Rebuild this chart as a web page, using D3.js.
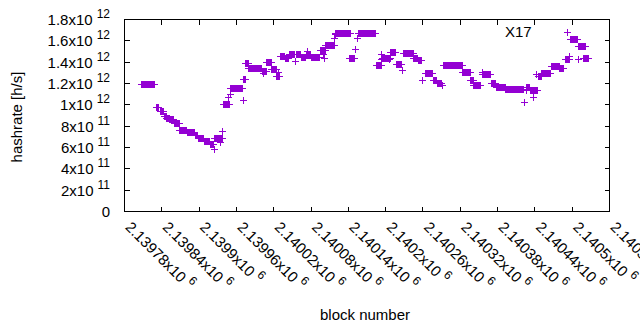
<!DOCTYPE html>
<html><head><meta charset="utf-8">
<script src="https://cdn.jsdelivr.net/npm/d3@7"></script>
<style>
body{margin:0;background:#fff}
svg{display:block}
text{font-family:"Liberation Sans",Arial,sans-serif;fill:#000}
</style>
</head><body>
<svg id="c" width="640" height="330"></svg>
<script>
// ---- data: runs of consecutive blocks sharing the same hashrate estimate ----
const runStart = [
 2139807,2139831,2139838,2139844,2139848,2139853,2139860,2139869,2139881,2139894,
 2139899,2139908,2139918,2139924,2139925,2139934,2139938,2139940,2139948,2139950,
 2139950,2139972,2139971,2139975,2139980,2140002,2140004,2140009,2140017,2140025,
 2140027,2140031,2140039,2140045,2140055,2140056,2140064,2140072,2140074,2140080,
 2140102,2140100,2140095,2140104,2140118,2140119,2140120,2140142,2140152,2140154,
 2140157,2140185,2140193,2140194,2140195,2140206,2140208,2140217,2140227,2140229,
 2140245,2140253,2140260,2140264,2140277,2140283,2140291,2140293,2140324,2140337,
 2140342,2140355,2140356,2140370,2140378,2140393,2140423,2140426,2140427,2140433,
 2140438,2140443,2140446,2140451,2140467,2140480,2140489,2140496,2140492,2140497,
 2140510,2140510,2140518];
const runEnd = [
 2139829,2139835,2139843,2139847,2139852,2139859,2139868,2139880,2139893,2139898,
 2139907,2139917,2139923,2139924,2139937,2139934,2139938,2139949,2139948,2139950,
 2139969,2139972,2139975,2139979,2140001,2140008,2140004,2140016,2140024,2140029,
 2140027,2140038,2140044,2140054,2140055,2140063,2140071,2140079,2140074,2140094,
 2140102,2140100,2140103,2140118,2140118,2140119,2140143,2140150,2140152,2140154,
 2140184,2140193,2140193,2140194,2140207,2140206,2140216,2140225,2140227,2140244,
 2140252,2140258,2140260,2140276,2140282,2140290,2140291,2140323,2140336,2140341,
 2140353,2140355,2140369,2140377,2140392,2140422,2140423,2140432,2140427,2140444,
 2140438,2140443,2140450,2140465,2140479,2140486,2140496,2140496,2140492,2140509,
 2140521,2140510,2140526];
const runRate = [
 1.188e12,0.975e12,0.940e12,0.891e12,0.872e12,0.858e12,0.822e12,0.757e12,0.743e12,0.712e12,
 0.689e12,0.656e12,0.628e12,0.578e12,0.681e12,0.650e12,0.750e12,1.000e12,1.066e12,1.094e12,
 1.150e12,1.041e12,1.237e12,1.385e12,1.345e12,1.317e12,1.291e12,1.397e12,1.327e12,1.266e12,
 1.306e12,1.453e12,1.430e12,1.475e12,1.406e12,1.472e12,1.444e12,1.465e12,1.500e12,1.441e12,
 1.431e12,1.469e12,1.509e12,1.553e12,1.619e12,1.659e12,1.666e12,1.434e12,1.516e12,1.619e12,
 1.666e12,1.366e12,1.422e12,1.472e12,1.439e12,1.422e12,1.494e12,1.375e12,1.322e12,1.478e12,
 1.431e12,1.413e12,1.228e12,1.297e12,1.231e12,1.200e12,1.181e12,1.366e12,1.306e12,1.231e12,
 1.181e12,1.306e12,1.284e12,1.197e12,1.160e12,1.141e12,1.025e12,1.165e12,1.134e12,1.131e12,
 1.066e12,1.284e12,1.263e12,1.291e12,1.364e12,1.341e12,1.428e12,1.453e12,1.675e12,1.610e12,
 1.544e12,1.422e12,1.431e12];

const xTickBlocks   = [2139780,2139840,2139900,2139960,2140020,2140080,2140140,2140200,2140260,2140320,2140380,2140440,2140500,2140560];
const xTickMantissa = ["2.13978","2.13984","2.1399","2.13996","2.14002","2.14008","2.14014","2.1402","2.14026","2.14032","2.14038","2.14044","2.1405","2.14056"];
const xTickExp      = "6";
const yTickValues   = [0,2e11,4e11,6e11,8e11,1e12,1.2e12,1.4e12,1.6e12,1.8e12];
const yTickMantissa = ["0","2","4","6","8","1","1.2","1.4","1.6","1.8"];
const yTickExp      = ["","11","11","11","11","12","12","12","12","12"];
const seriesTitle   = "X17";

// ---- layout ----
const L = 124, R = 609, T = 19, B = 211;
const svg = d3.select("#c");
const x = d3.scaleLinear().domain([2139780, 2140560]).range([L, R]);
const y = d3.scaleLinear().domain([0, 1.8e12]).range([B, T]);
const color = "#9400d3";
const FS = 15;

// expand runs into individual block points
const points = [];
runStart.forEach((s, i) => {
  d3.range(s, runEnd[i] + 1).forEach(b => points.push({b, v: runRate[i]}));
});

// ticks (bottom + mirrored top, left + mirrored right)
const g = svg.append("g").attr("shape-rendering", "crispEdges");
g.append("g").attr("transform", `translate(0,${B + 0.5})`)
  .call(d3.axisBottom(x).tickValues(xTickBlocks).tickSize(-5).tickFormat(""))
  .call(a => a.select(".domain").remove());
g.append("g").attr("transform", `translate(0,${T + 0.5})`)
  .call(d3.axisTop(x).tickValues(xTickBlocks).tickSize(-5).tickFormat(""))
  .call(a => a.select(".domain").remove());
g.append("g").attr("transform", `translate(${L + 0.5},0)`)
  .call(d3.axisLeft(y).tickValues(yTickValues).tickSize(-5).tickFormat(""))
  .call(a => a.select(".domain").remove());
g.append("g").attr("transform", `translate(${R + 0.5},0)`)
  .call(d3.axisRight(y).tickValues(yTickValues).tickSize(-5).tickFormat(""))
  .call(a => a.select(".domain").remove());
g.selectAll(".tick line").attr("stroke", "#000");

// border
g.append("rect").attr("x", L + 0.5).attr("y", T + 0.5)
  .attr("width", R - L).attr("height", B - T)
  .attr("fill", "none").attr("stroke", "#000");

// y tick labels
yTickValues.forEach((v, i) => {
  const t = svg.append("text").attr("x", 110).attr("y", y(v) + 6)
    .attr("text-anchor", "end").attr("font-size", FS);
  t.append("tspan").text(yTickMantissa[i] + (yTickExp[i] ? "x10" : ""));
  if (yTickExp[i]) {
    t.append("tspan").attr("dx", 4).attr("dy", -7).attr("font-size", 12).text(yTickExp[i]);
  }
});

// x tick labels, rotated
xTickBlocks.forEach((b, i) => {
  const t = svg.append("text")
    .attr("transform", `translate(${x(b) + 0.5},${B + 17}) rotate(45)`)
    .attr("font-size", FS);
  t.append("tspan").text(xTickMantissa[i] + "x10");
  t.append("tspan").attr("dx", 4).attr("dy", -7).attr("font-size", 12).text(xTickExp);
});

// axis titles
svg.append("text").attr("x", 365).attr("y", 320).attr("text-anchor", "middle")
  .attr("font-size", FS).text("block number");
svg.append("text").attr("transform", `translate(22,${(T + B) / 2 + 2}) rotate(-90)`)
  .attr("text-anchor", "middle").attr("font-size", FS).text("hashrate [h/s]");

// key text
svg.append("text").attr("x", 505).attr("y", 37).attr("font-size", FS).text(seriesTitle);

// points
svg.append("g").attr("shape-rendering", "crispEdges")
  .selectAll("path").data(points).join("path")
  .attr("transform", d => `translate(${Math.round(x(d.b)) + 0.5},${Math.round(y(d.v)) + 0.5})`)
  .attr("d", "M-3.5,0H3.5M0,-3.5V3.5")
  .attr("fill", "none").attr("stroke", color).attr("stroke-width", 1);
</script>
</body></html>
